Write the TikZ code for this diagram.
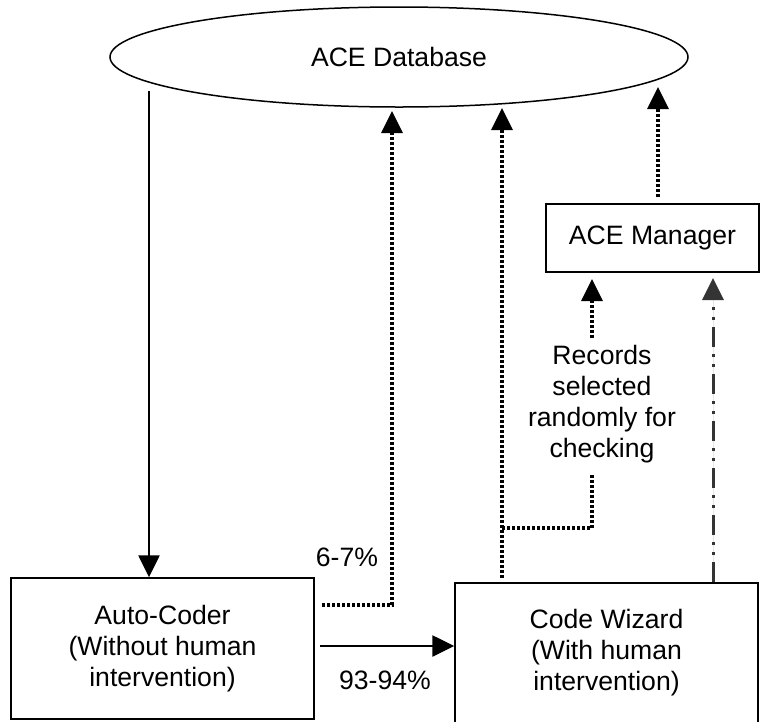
\documentclass[tikz,border=0pt]{standalone}
\usepackage{fontspec}
\setmainfont{Liberation Sans}
\usetikzlibrary{arrows.meta,shapes.geometric}
\definecolor{dashgrey}{RGB}{52,52,52}
\begin{document}
\begin{tikzpicture}[x=1pt,y=-1pt,
  every node/.style={font=\fontsize{26.6}{31}\selectfont, align=center, inner sep=0pt},
  box/.style={draw, line width=1.4pt, rectangle},
  headtip/.style={-{Triangle[length=22pt,width=21pt]}},
  solidflow/.style={headtip, line width=2.5pt},
  dotline/.style={line width=3.2pt, dash pattern=on 2.7pt off 2.3pt},
  dotflow/.style={headtip, dotline},
  dashdotflow/.style={headtip, line width=3pt, draw=dashgrey, fill=dashgrey,
    dash pattern=on 20pt off 7pt on 3pt off 7pt on 3pt off 7pt}]
\useasboundingbox (0,0) rectangle (761,721);

% nodes
\node[draw, ellipse, line width=1.5pt, minimum width=578pt, minimum height=100pt] (db) at (399,57) {ACE Database};
\node[box, minimum width=303pt, minimum height=141pt] (auto) at (162.5,648.5) {Auto-Coder\\(Without human\\intervention)};
\node[box, minimum width=303pt, minimum height=140pt] (wiz) at (606.5,653) {Code Wizard\\(With human\\intervention)};
\node[box, minimum width=213pt, minimum height=68pt] (mgr) at (652.5,238) {ACE Manager};
\node (rec) at (602,404) {Records\\selected\\randomly for\\checking};
\node (p1) at (347,557) {6-7\%};
\node (p2) at (385,680) {93-94\%};

% connector end points
\coordinate (dbOut) at (149,91);
\coordinate (acOut) at (322,605);
\coordinate (tipA) at (392,111);
\coordinate (acR) at (320,646);
\coordinate (wzOut) at (502,578);
\coordinate (tipB) at (502,108);
\coordinate (recBot) at (592,475);
\coordinate (join) at (502,528);
\coordinate (recTop) at (592,338);
\coordinate (tipC) at (592,279);
\coordinate (mgOut) at (658,197);
\coordinate (tipD) at (658,87);
\coordinate (tipE) at (713,278);

% connectors
\draw[solidflow] (dbOut) -- (dbOut |- auto.north);
\draw[dotflow] (acOut) -| (tipA);
\draw[solidflow] (acR) -- (acR -| wiz.west);
\draw[dotflow] (wzOut) -- (tipB);
\draw[dotline] (recBot) |- (join);
\draw[dotflow] (recTop) -- (tipC);
\draw[dotflow] (mgOut) -- (tipD);
\draw[dashdotflow] (tipE |- wiz.north) -- (tipE);
\end{tikzpicture}
\end{document}
